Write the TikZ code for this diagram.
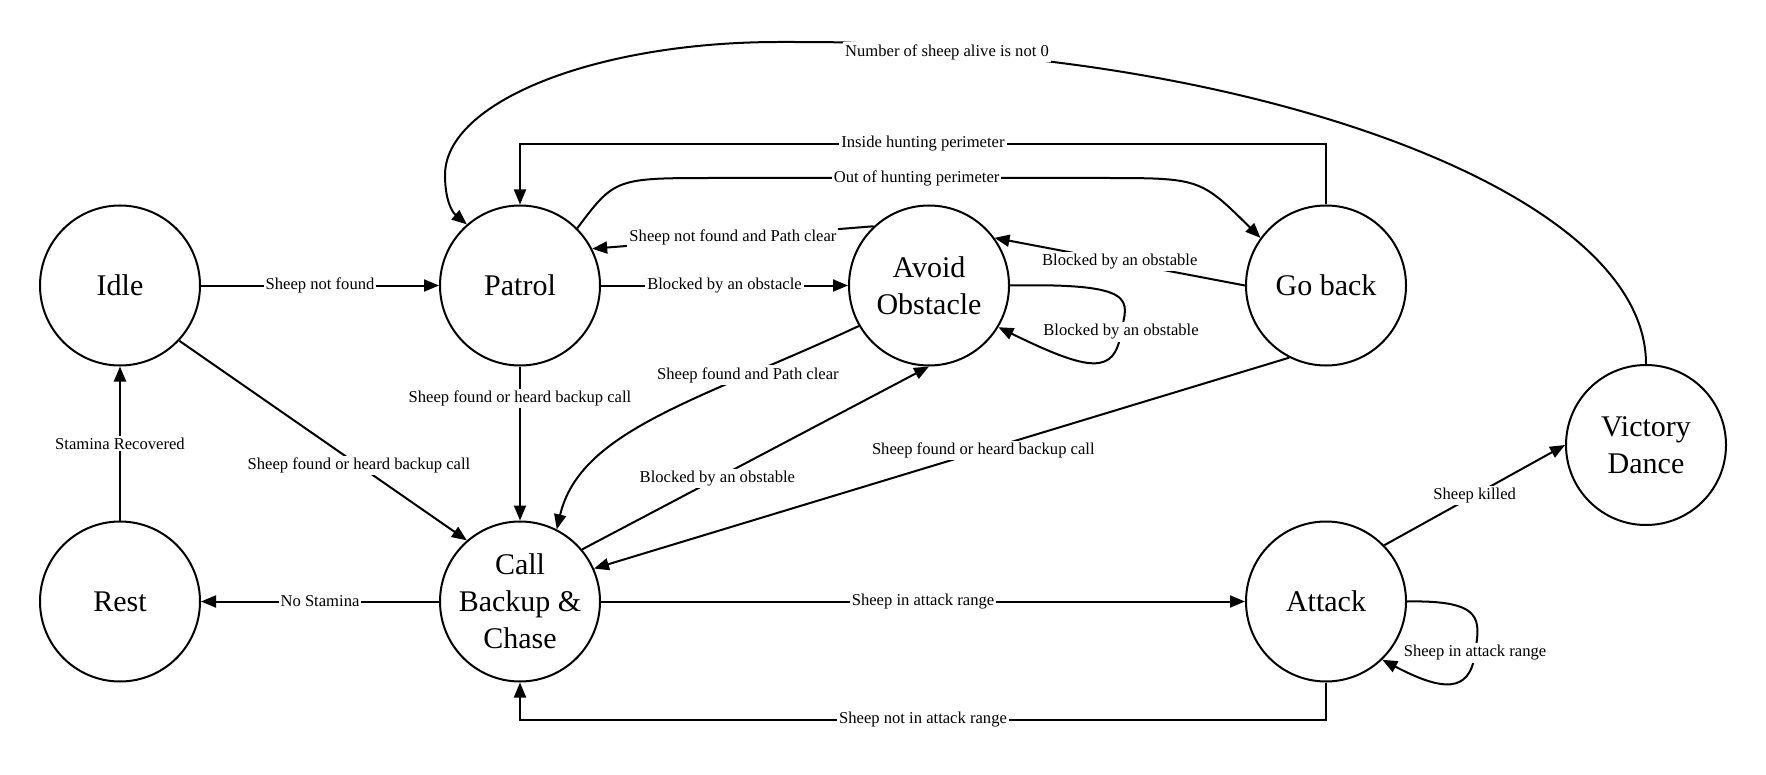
\documentclass[tikz,border=0pt]{standalone}
\usepackage{fontspec}
\setmainfont{Liberation Serif}
\usetikzlibrary{arrows.meta}

\begin{document}
\begin{tikzpicture}[x=0.5pt,y=-0.5pt,line width=1pt,>={Triangle[length=7.5pt,width=6pt]}]
            \tikzstyle{state}=[draw,circle,minimum size=80pt,inner sep=0pt,align=center,font=\fontsize{15}{18.4}\selectfont]
            \tikzstyle{lbl}=[fill=white,inner sep=1pt,font=\fontsize{8.3}{10}\selectfont]
            \useasboundingbox (0,0) rectangle (1766,775);
            \node [state] (idle) at (120,285.5) {Idle};
            \node [state] (patrol) at (520,285.5) {Patrol};
            \node [state] (avoid) at (929,285.5) {Avoid\\Obstacle};
            \node [state] (goback) at (1326,285.5) {Go back};
            \node [state] (rest) at (120,601.5) {Rest};
            \node [state] (chase) at (520,601.5) {Call\\Backup \&\\Chase};
            \node [state] (attack) at (1326,601.5) {Attack};
            \node [state] (victory) at (1646,445) {Victory\\Dance};
            \draw [->] (idle) -- (patrol) node [lbl,midway] {Sheep not found};
            \draw [->] (patrol) -- (avoid) node [lbl,midway] {Blocked by an obstacle};
            \draw [->] (avoid.133) -- (patrol.27) node [lbl,midway] {Sheep not found and Path clear};
            \draw [->] (patrol.45) .. controls (615,178) .. (717,178) -- (1101,178) node [lbl,pos=0.52] {Out of hunting perimeter}
                .. controls (1200,178) .. (goback.144);
            \draw [->] (goback.north) -- (1326,144) -| (patrol.north) node [lbl,pos=0.25] {Inside hunting perimeter};
            \draw [->] (victory.north) .. controls (1646,200) and (1300,75) .. (947,52) node [lbl] {Number of sheep alive is not 0}
                .. controls (860,42) .. (779,42) .. controls (595,42) and (445,102) .. (445,175)
                .. controls (445,200) and (452,212) .. (patrol.131);
            \draw [->] (patrol) -- (chase) node [lbl,pos=0.21] {Sheep found or heard backup call};
            \draw [->] (idle.-43) -- (chase.131) node [lbl,pos=0.625] {Sheep found or heard backup call};
            \draw [->] (avoid.-150) .. controls (700,400) and (580,430) .. (chase.63) node [lbl,pos=0.25] {Sheep found and Path clear};
            \draw [->] (chase.40) -- (avoid.south) node [lbl,pos=0.39] {Blocked by an obstable};
            \draw [->] (avoid.east) .. controls (1140,283) and (1128,300) .. (1121,332) node [lbl] {Blocked by an obstable}
                .. controls (1115,375) and (1090,372) .. (avoid.-31);
            \draw [->] (goback.west) -- (avoid.36) node [lbl,midway] {Blocked by an obstable};
            \draw [->] (goback.-117) -- (chase.24) node [lbl,pos=0.44] {Sheep found or heard backup call};
            \draw [->] (chase) -- (rest) node [lbl,midway] {No Stamina};
            \draw [->] (rest) -- (idle) node [lbl,midway] {Stamina Recovered};
            \draw [->] (chase) -- (attack) node [lbl,midway] {Sheep in attack range};
            \draw [->] (attack.south) -- (1326,719.5) -| (chase.south) node [lbl,pos=0.25] {Sheep not in attack range};
            \draw [->] (attack.east) .. controls (1485,600) and (1480,620) .. (1475,653) node [lbl] {Sheep in attack range}
                .. controls (1470,695) and (1440,690) .. (attack.-46);
            \draw [->] (attack.44) -- (victory.west) node [lbl,midway] {Sheep killed};
        \end{tikzpicture}
\end{document}
